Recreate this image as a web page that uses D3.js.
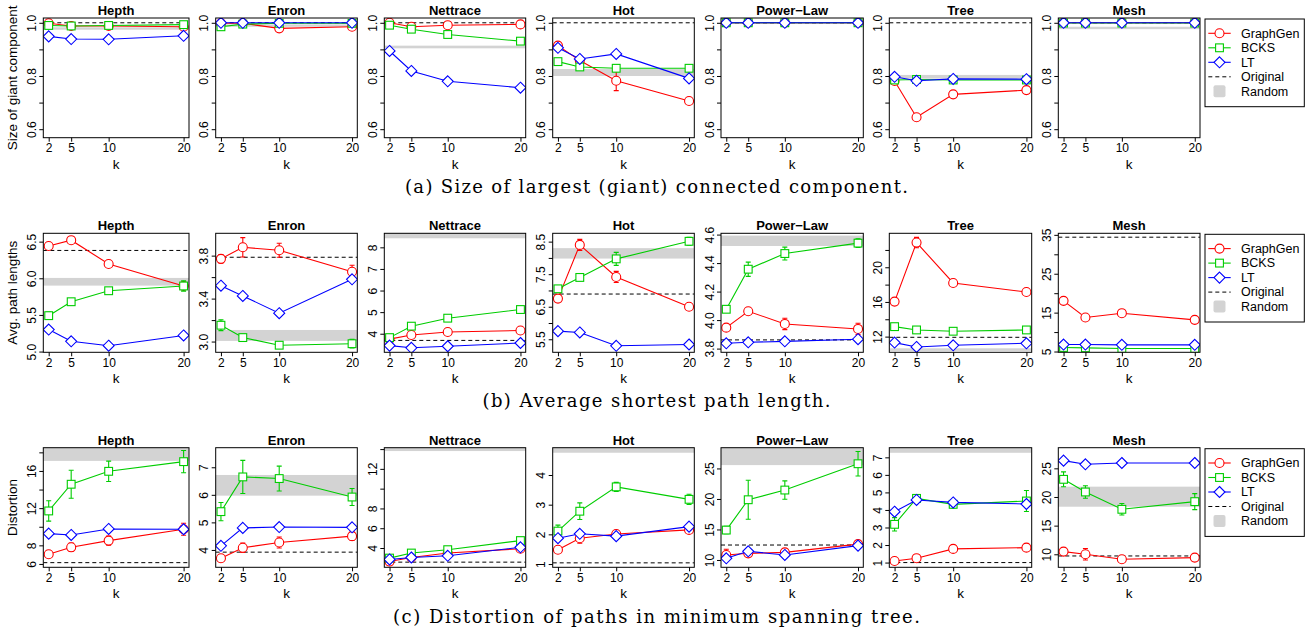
<!DOCTYPE html>
<html>
<head>
<meta charset="utf-8">
<title>Graph generators comparison</title>
<script src="https://d3js.org/d3.v7.min.js"></script>
<style>
  body { margin: 0; background: #fff; }
  svg text { font-family: "Liberation Sans", Arial, Helvetica, sans-serif; fill: #000; }
  svg text.caption { font-family: "DejaVu Serif", "Liberation Serif", serif; }
</style>
</head>
<body>
<svg id="chart" width="1308" height="634"></svg>
<script>
// ---- data ----
var kValues = [2, 5, 10, 20];
var panelNames = ['Hepth', 'Enron', 'Nettrace', 'Hot', 'Power\u2212Law', 'Tree', 'Mesh'];
var seriesNames = ['GraphGen', 'BCKS', 'LT'];

// (a) size of giant component
var giantGraphGen = [[0.998, 0.988, 0.988, 0.985], [0.998, 0.998, 0.979, 0.985], [1.0, 0.985, 0.991, 0.994], [0.914, 0.858, 0.782, 0.706], [1, 1, 1, 1], [0.781, 0.645, 0.731, 0.747], [1, 1, 1, 1]];
var giantBCKS = [[0.990, 0.988, 0.990, 0.993], [0.985, 0.995, 0.998, 0.998], [0.991, 0.976, 0.956, 0.931], [0.854, 0.834, 0.829, 0.829], [1, 1, 1, 1], [0.785, 0.787, 0.785, 0.785], [0.999, 0.999, 0.999, 0.999]];
var giantLT = [[0.949, 0.939, 0.938, 0.951], [1, 1, 1, 1], [0.894, 0.819, 0.780, 0.756], [0.906, 0.864, 0.883, 0.791], [1, 1, 1, 1], [0.797, 0.782, 0.789, 0.788], [1, 1, 1, 1]];
var giantGraphGenErr = [[0.003, 0.003, 0.002, 0.003], [0, 0.002, 0.004, 0.008], [0, 0, 0, 0], [0.01, 0.01, 0.037, 0.012], [0, 0, 0, 0], [0.012, 0.01, 0.003, 0.004], [0, 0, 0, 0]];
var giantOriginal = [1, 1, 1, 1, 1, 1, 1];
var giantRandom = [[0.974, 0.983], [0.985, 0.994], [0.904, 0.914], [0.800, 0.826], [0.997, 1.0], [0.790, 0.804], [0.976, 0.985]];

// (b) average shortest path length
var pathGraphGen = [[6.44, 6.52, 6.195, 5.895], [3.77, 3.878, 3.85, 3.65], [3.75, 3.94, 4.08, 4.15], [6.75, 8.40, 7.415, 6.50], [3.947, 4.062, 3.973, 3.938], [16.04, 22.85, 18.19, 17.15], [18.03, 13.75, 14.86, 13.15]];
var pathBCKS = [[5.49, 5.68, 5.83, 5.895], [3.152, 3.037, 2.966, 2.98], [3.82, 4.35, 4.72, 5.12], [7.05, 7.40, 7.97, 8.51], [4.076, 4.357, 4.467, 4.54], [13.15, 12.77, 12.62, 12.77], [6.04, 5.95, 5.78, 5.78]];
var pathLT = [[5.30, 5.14, 5.08, 5.22], [3.52, 3.425, 3.264, 3.58], [3.45, 3.35, 3.42, 3.57], [5.75, 5.71, 5.30, 5.34], [3.837, 3.844, 3.851, 3.866], [11.31, 10.81, 11.0, 11.23], [6.8, 6.8, 6.72, 6.72]];
var pathGraphGenErr = [[0.02, 0.03, 0.03, 0.04], [0.04, 0.09, 0.065, 0.06], [0, 0, 0, 0], [0.05, 0.17, 0.17, 0.1], [0.005, 0.015, 0.04, 0.04], [0.4, 0.6, 0.1, 0.1], [0, 0, 0, 0]];
var pathBCKSErr = [[0.05, 0.02, 0.02, 0.07], [0.05, 0.03, 0.01, 0.04], [0, 0, 0, 0], [0.1, 0.03, 0.2, 0.12], [0.02, 0.05, 0.045, 0.03], [0, 0, 0, 0], [0, 0, 0, 0]];
var pathOriginal = [6.38, 3.785, 3.69, 6.89, 3.861, 11.92, 34.4];
var pathRandom = [[5.9, 6.005], [3.006, 3.108], [8.42, 8.9], [7.98, 8.30], [4.52, 4.593], [10.35, 10.65], null];

// (c) distortion of MST paths
var distGraphGen = [[7.04, 7.79, 8.51, 9.73], [3.70, 4.08, 4.27, 4.50], [2.63, 3.04, 3.49, 3.93], [1.48, 1.87, 2.01, 2.15], [10.82, 11.09, 11.25, 12.6], [1.09, 1.25, 1.78, 1.85], [10.47, 10.0, 9.13, 9.42]];
var distBCKS = [[11.7, 14.57, 15.96, 17.0], [5.39, 6.65, 6.59, 5.92], [2.98, 3.49, 3.83, 4.75], [2.11, 2.78, 3.60, 3.18], [14.9, 19.87, 21.46, 25.77], [3.18, 4.66, 4.32, 4.51], [23.08, 20.87, 17.85, 19.19]];
var distLT = [[9.26, 9.12, 9.76, 9.73], [4.15, 4.80, 4.83, 4.82], [2.84, 3.04, 3.21, 4.07], [1.87, 2.02, 1.94, 2.26], [10.27, 11.42, 10.82, 12.35], [3.90, 4.57, 4.43, 4.34], [26.34, 25.7, 25.93, 25.93]];
var distGraphGenErr = [[0.35, 0.45, 0.5, 0.65], [0.13, 0.17, 0.2, 0.16], [0, 0, 0, 0], [0, 0.17, 0.05, 0.04], [0.95, 0.3, 0.3, 0.3], [0.05, 0.05, 0.05, 0.2], [0.5, 1.0, 0.3, 0.5]];
var distBCKSErr = [[1.1, 1.5, 1.1, 1.2], [0.33, 0.6, 0.45, 0.31], [0.1, 0.1, 0.22, 0.15], [0.2, 0.28, 0.15, 0.17], [0.6, 3.2, 1.5, 2.0], [0.38, 0.1, 0.2, 0.6], [1.3, 1.1, 1.0, 1.4]];
var distOriginal = [6.14, 3.92, 2.57, 1.04, 12.45, 1.0, 9.71];
var distRandom = [[17.08, 19], [5.97, 6.72], [13.8, 15], [4.75, 5.2], [25.55, 29], [7.26, 8], [18.3, 21.8]];

// y axis ticks (all) and which ones carry a label
var giantTicks = [[0.6, 0.7, 0.8, 0.9, 1.0]];
var giantTickLabels = [[0.6, 0.8, 1.0]];
var pathTicks = [[5, 5.5, 6, 6.5], [3.0, 3.2, 3.4, 3.6, 3.8], [4, 5, 6, 7, 8], [5.5, 6, 6.5, 7, 7.5, 8, 8.5], [3.8, 4.0, 4.2, 4.4, 4.6], [12, 14, 16, 18, 20, 22], [5, 10, 15, 20, 25, 30, 35]];
var pathTickLabels = [[5, 5.5, 6, 6.5], [3.0, 3.4, 3.8], [4, 5, 6, 7, 8], [5.5, 6.5, 7.5, 8.5], [3.8, 4.0, 4.2, 4.4, 4.6], [12, 16, 20], [5, 15, 25, 35]];
var distTicks = [[6, 8, 10, 12, 14, 16, 18], [4, 5, 6, 7], [4, 6, 8, 10, 12, 14], [1, 2, 3, 4], [10, 15, 20, 25], [1, 2, 3, 4, 5, 6, 7], [10, 15, 20, 25]];
var distTickLabels = [[6, 8, 12, 16], [4, 5, 6, 7], [4, 6, 8, 12], [1, 2, 3, 4], [10, 15, 20, 25], [1, 2, 3, 4, 5, 6, 7], [10, 15, 20, 25]];

// ---- layout ----
var colLeft = [43.3, 215.7, 384.3, 552.7, 721, 889.3, 1058.3];
var colRight = [189, 357.3, 525.7, 694.3, 863.3, 1031.7, 1200];
var colors = ['#ff0000', '#00cd00', '#0000ff'];
var shapes = ['circle', 'square', 'diamond'];
var bandColor = '#d3d3d3';

var rows = [
  { series: [giantGraphGen, giantBCKS, giantLT], err: [giantGraphGenErr, null, null],
    original: giantOriginal, random: giantRandom,
    domains: [[0.568, 1.018], [0.568, 1.018], [0.568, 1.018], [0.568, 1.018], [0.568, 1.018], [0.568, 1.018], [0.568, 1.018]],
    ticks: [0, 0, 0, 0, 0, 0, 0].map(function() { return giantTicks[0]; }),
    labels: [0, 0, 0, 0, 0, 0, 0].map(function() { return giantTickLabels[0]; }),
    fmt: d3.format('.1f'),
    ylabel: 'Size of giant component', caption: '(a) Size of largest (giant) connected component.',
    top: 18, bottom: 137.7, captionY: 193, captionW: 503 },
  { series: [pathGraphGen, pathBCKS, pathLT], err: [pathGraphGenErr, pathBCKSErr, null],
    original: pathOriginal, random: pathRandom,
    domains: [[4.99, 6.614], [2.90, 4.008], [3.14, 8.65], [5.10, 8.756], [3.774, 4.609], [10.19, 23.92], [4.8, 35.4]],
    ticks: pathTicks, labels: pathTickLabels,
    fmt: null,
    ylabel: 'Avg. path lengths', caption: '(b) Average shortest path length.',
    top: 233.3, bottom: 352.3, captionY: 407, captionW: 348 },
  { series: [distGraphGen, distBCKS, distLT], err: [distGraphGenErr, distBCKSErr, null],
    original: distOriginal, random: distRandom,
    domains: [[5.64, 18.5], [3.37, 7.71], [2.05, 14.14], [0.89, 4.92], [8.8, 28.4], [0.73, 7.55], [7.73, 28.6]],
    ticks: distTicks, labels: distTickLabels,
    fmt: d3.format('d'),
    ylabel: 'Distortion', caption: '(c) Distortion of paths in minimum spanning tree.',
    top: 447.7, bottom: 567.3, captionY: 623, captionW: 527 }
];
var pathFormats = [d3.format('.1f'), d3.format('.1f'), d3.format('d'), d3.format('.1f'), d3.format('.1f'), d3.format('d'), d3.format('d')];

var svg = d3.select('#chart');

function drawMarker(g, shape, cx, cy, color) {
  var m;
  if (shape === 'circle') {
    m = g.append('circle').attr('cx', cx).attr('cy', cy).attr('r', 4.5);
  } else if (shape === 'square') {
    m = g.append('rect').attr('x', cx - 3.9).attr('y', cy - 3.9).attr('width', 7.8).attr('height', 7.8);
  } else {
    var h = 5.5;
    m = g.append('path').attr('d', 'M' + cx + ',' + (cy - h) + 'L' + (cx + h) + ',' + cy + 'L' + cx + ',' + (cy + h) + 'L' + (cx - h) + ',' + cy + 'Z');
  }
  m.attr('fill', '#fff').attr('stroke', color).attr('stroke-width', 1.1);
}

rows.forEach(function(row, r) {
  panelNames.forEach(function(name, i) {
    var x = d3.scaleLinear().domain([1.28, 20.72]).range([colLeft[i], colRight[i]]);
    var y = d3.scaleLinear().domain(row.domains[i]).range([row.bottom, row.top]);
    var g = svg.append('g');
    var clipId = 'clip-' + r + '-' + i;
    g.append('clipPath').attr('id', clipId)
      .append('rect')
      .attr('x', colLeft[i]).attr('y', row.top)
      .attr('width', colRight[i] - colLeft[i]).attr('height', row.bottom - row.top);
    var plot = g.append('g').attr('clip-path', 'url(#' + clipId + ')');

    // random band
    var band = row.random[i];
    if (band) {
      plot.append('rect')
        .attr('x', colLeft[i]).attr('width', colRight[i] - colLeft[i])
        .attr('y', y(band[1])).attr('height', y(band[0]) - y(band[1]))
        .attr('fill', bandColor);
    }
    // original
    plot.append('line')
      .attr('x1', colLeft[i]).attr('x2', colRight[i])
      .attr('y1', y(row.original[i])).attr('y2', y(row.original[i]))
      .attr('stroke', '#000').attr('stroke-width', 1).attr('stroke-dasharray', '4,3');

    // series
    row.series.forEach(function(series, s) {
      var vals = series[i];
      var line = d3.line().x(function(d, j) { return x(kValues[j]); }).y(function(d) { return y(d); });
      plot.append('path').datum(vals)
        .attr('d', line).attr('fill', 'none')
        .attr('stroke', colors[s]).attr('stroke-width', 1.1);
      var err = row.err[s] ? row.err[s][i] : null;
      if (err) {
        vals.forEach(function(v, j) {
          if (!err[j]) return;
          var cx = x(kValues[j]);
          var y1 = y(v - err[j]), y2 = y(v + err[j]);
          var eb = plot.append('g').attr('stroke', colors[s]).attr('stroke-width', 1.1);
          eb.append('line').attr('x1', cx).attr('x2', cx).attr('y1', y1).attr('y2', y2);
          eb.append('line').attr('x1', cx - 2.5).attr('x2', cx + 2.5).attr('y1', y1).attr('y2', y1);
          eb.append('line').attr('x1', cx - 2.5).attr('x2', cx + 2.5).attr('y1', y2).attr('y2', y2);
        });
      }
      vals.forEach(function(v, j) {
        drawMarker(plot, shapes[s], x(kValues[j]), y(v), colors[s]);
      });
    });

    // box
    g.append('rect')
      .attr('x', colLeft[i]).attr('y', row.top)
      .attr('width', colRight[i] - colLeft[i]).attr('height', row.bottom - row.top)
      .attr('fill', 'none').attr('stroke', '#000').attr('stroke-width', 1);

    // title
    g.append('text')
      .attr('x', (colLeft[i] + colRight[i]) / 2).attr('y', row.top - 3)
      .attr('text-anchor', 'middle')
      .attr('font-size', '13px').attr('font-weight', 'bold')
      .text(name);

    // x axis
    var xAxis = g.append('g')
      .attr('transform', 'translate(0,' + row.bottom + ')')
      .call(d3.axisBottom(x).tickValues(kValues).tickSize(4).tickPadding(2).tickFormat(d3.format('d')));
    xAxis.select('.domain').remove();
    xAxis.selectAll('text').attr('font-size', '12px').attr('fill', '#000');
    g.append('text')
      .attr('x', (colLeft[i] + colRight[i]) / 2).attr('y', row.bottom + 30.8)
      .attr('text-anchor', 'middle').attr('font-size', '13.5px')
      .text('k');

    // y axis
    var fmt = row.fmt || pathFormats[i];
    var labelled = row.labels[i];
    var yAxis = g.append('g')
      .attr('transform', 'translate(' + colLeft[i] + ',0)')
      .call(d3.axisLeft(y).tickValues(row.ticks[i]).tickSize(4)
        .tickFormat(function(d) {
          return labelled.some(function(l) { return Math.abs(l - d) < 1e-9; }) ? fmt(d) : '';
        }));
    yAxis.select('.domain').remove();
    yAxis.selectAll('text')
      .attr('x', null).attr('dy', null)
      .attr('text-anchor', 'middle')
      .attr('transform', 'translate(-7.5,0) rotate(-90)')
      .attr('font-size', '12px').attr('fill', '#000');

    if (i === 0) {
      g.append('text')
        .attr('transform', 'translate(17,' + (row.top + row.bottom) / 2 + ') rotate(-90)')
        .attr('text-anchor', 'middle').attr('font-size', '13.5px')
        .text(row.ylabel);
    }
  });

  // legend
  var lgTop = row.top + 1;
  var lg = svg.append('g');
  lg.append('rect')
    .attr('x', 1205).attr('y', lgTop).attr('width', 99.3).attr('height', 87.7)
    .attr('fill', '#fff').attr('stroke', '#000').attr('stroke-width', 1);
  var entries = seriesNames.concat(['Original', 'Random']);
  entries.forEach(function(label, e) {
    var ly = lgTop + 14.3 + e * 14.5;
    if (e < 3) {
      lg.append('line').attr('x1', 1208.3).attr('x2', 1230.7).attr('y1', ly).attr('y2', ly)
        .attr('stroke', colors[e]).attr('stroke-width', 1.1);
      drawMarker(lg, shapes[e], 1219.5, ly, colors[e]);
    } else if (e === 3) {
      lg.append('line').attr('x1', 1208.3).attr('x2', 1230.7).attr('y1', ly).attr('y2', ly)
        .attr('stroke', '#000').attr('stroke-width', 1).attr('stroke-dasharray', '4,3');
    } else {
      lg.append('rect').attr('x', 1213.5).attr('y', ly - 6).attr('width', 12).attr('height', 12)
        .attr('rx', 2).attr('fill', bandColor);
    }
    lg.append('text').attr('x', 1241).attr('y', ly).attr('dy', '0.35em')
      .attr('font-size', '12.5px').text(label);
  });

  // caption
  svg.append('text')
    .attr('class', 'caption')
    .attr('x', 656.5).attr('y', row.captionY)
    .attr('text-anchor', 'middle').attr('font-size', '18px')
    .attr('textLength', row.captionW).attr('lengthAdjust', 'spacing')
    .text(row.caption);
});
</script>
</body>
</html>
